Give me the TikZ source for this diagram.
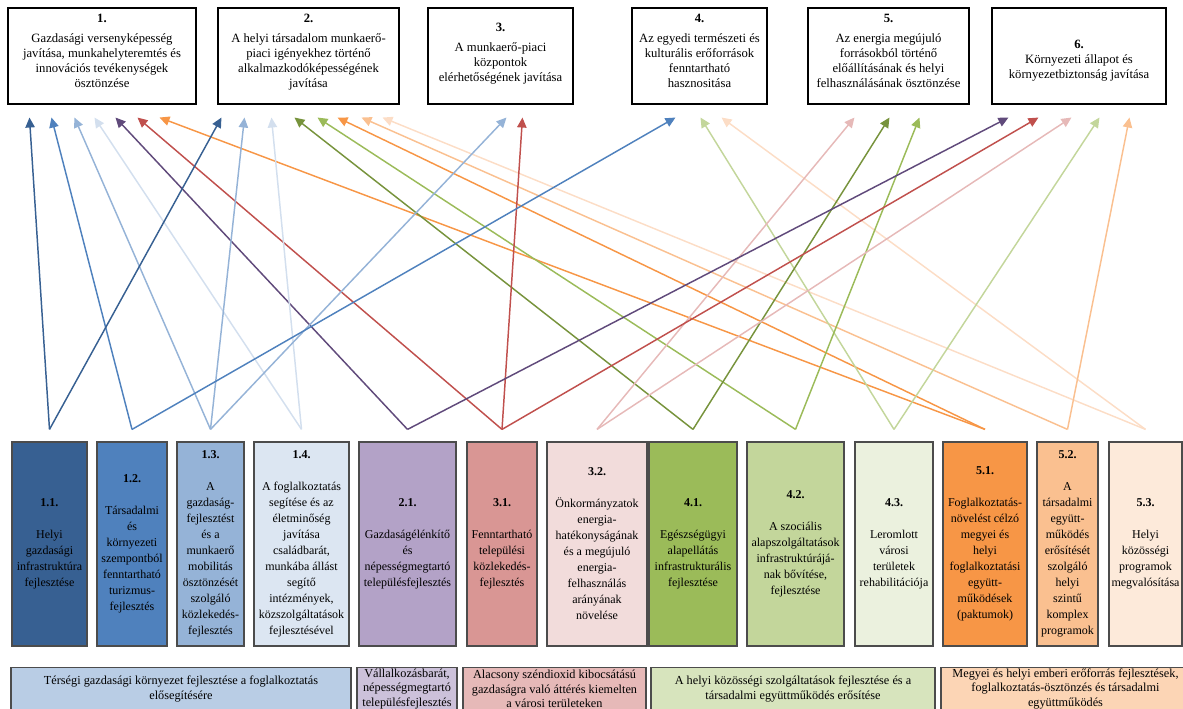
\documentclass[tikz,border=0pt]{standalone}
\usepackage{fontspec}
\setmainfont{Liberation Serif}
\usepackage{xcolor}
\definecolor{back11}{HTML}{376092}
\definecolor{back12}{HTML}{4F81BD}
\definecolor{back13}{HTML}{95B3D7}
\definecolor{back14}{HTML}{DCE6F2}
\definecolor{back21}{HTML}{B3A2C7}
\definecolor{back31}{HTML}{D99694}
\definecolor{back32}{HTML}{F2DCDB}
\definecolor{back41}{HTML}{9BBB59}
\definecolor{back42}{HTML}{C3D69B}
\definecolor{back43}{HTML}{EBF1DE}
\definecolor{back51}{HTML}{F79646}
\definecolor{back52}{HTML}{FAC090}
\definecolor{back53}{HTML}{FDEADA}
\definecolor{arr11}{HTML}{376092}
\definecolor{arr12}{HTML}{4F81BD}
\definecolor{arr13}{HTML}{95B3D7}
\definecolor{arr14}{HTML}{D3DFEE}
\definecolor{arr21}{HTML}{604A7B}
\definecolor{arr31}{HTML}{C0504D}
\definecolor{arr32}{HTML}{E6B9B8}
\definecolor{arr41}{HTML}{77933C}
\definecolor{arr42}{HTML}{9BBB59}
\definecolor{arr43}{HTML}{C3D69B}
\definecolor{arr51}{HTML}{F79646}
\definecolor{arr52}{HTML}{FAC090}
\definecolor{arr53}{HTML}{FCDDC6}
\definecolor{prioBlue}  {HTML}{B9CDE5}
\definecolor{prioPurple}{HTML}{CCC1DA}
\definecolor{prioRed}   {HTML}{E6B9B8}
\definecolor{prioGreen} {HTML}{D7E4BD}
\definecolor{prioOrange}{HTML}{FCD5B5}
\usetikzlibrary{arrows.meta, positioning, calc}

\begin{document}
\begin{tikzpicture}[
    x=0.75pt, y=-0.75pt,
    every node/.style={font=\fontsize{9}{11}\selectfont},
    goalbox/.style={draw, line width=0.8pt, minimum height=72pt, align=center,
                    inner sep=1pt, font=\fontsize{9.5}{11.25}\selectfont},
    measbox/.style={draw=black!70, line width=0.9pt, minimum height=153pt,
                    align=center, inner sep=1pt, font=\fontsize{9}{12}\selectfont},
    priobox/.style={draw=black!70, line width=0.9pt, minimum height=32pt,
                    align=center, inner xsep=1pt, inner ysep=0pt,
                    font=\fontsize{9.2}{11}\selectfont},
    arr/.style={-{Triangle[length=7.5pt, width=7pt]}, line width=1.1pt}
]
\clip (0,0) rectangle (1183,709);
% Goals
\foreach \n/\x/\w/\dn/\gap/\up/\txt in {
    1/102/141/0/4/8/{Gazdasági versenyképesség\\javítása, munkahelyteremtés és\\innovációs tevékenységek\\ösztönzése},
    2/308.5/135.75/0/4/8/{A helyi társadalom munkaerő-\\piaci igényekhez történő\\alkalmazkodóképességének\\javítása},
    3/500.5/108.75/0/4/6/{A munkaerő-piaci\\központok\\elérhetőségének javítása},
    4/699.5/101.25/0/4/8/{Az egyedi természeti és\\kulturális erőforrások\\fenntartható\\hasznositása},
    5/888.5/120.75/0/4/8/{Az energia megújuló\\forrásokból történő\\előállításának és helyi\\felhasználásának ösztönzése},
    6/1079/130.5/13/0/0/{Környezeti állapot és\\környezetbiztonság javítása}} {
    \node[goalbox, minimum width=\w pt] (t\n) at (\x,56)
        {\rule{0pt}{\dn pt}\textbf{\n.}\\[\gap pt]\txt\rule[-\up pt]{0pt}{\up pt}};
}
% Measures
\foreach \n/\num/\x/\w/\txt in {
    11/1.1./49.5/56.25/{Helyi\\gazdasági\\infrastruktúra\\fejlesztése},
    12/1.2./132/52.5/{Társadalmi\\és\\környezeti\\szempontból\\fenntartható\\turizmus-\\fejlesztés},
    13/1.3./210.5/50.25/{A\\gazdaság-\\fejlesztést\\és a\\munkaerő\\mobilitás\\ösztönzését\\szolgáló\\közlekedés-\\fejlesztés},
    14/1.4./301.5/71.25/{A foglalkoztatás\\segítése és az\\életminőség\\javítása\\családbarát,\\munkába állást\\segítő\\intézmények,\\közszolgáltatások\\fejlesztésével},
    21/2.1./407.5/72.75/{Gazdaságélénkítő\\és\\népességmegtartó\\településfejlesztés},
    31/3.1./502/52.5/{Fenntartható\\települési\\közlekedés-\\fejlesztés},
    32/3.2./597/75/{Önkormányzatok\\energia-\\hatékonyságának\\és a megújuló\\energia-\\felhasználás\\arányának\\növelése},
    41/4.1./693/66/{Egészségügyi\\alapellátás\\infrastrukturális\\fejlesztése},
    42/4.2./795.5/72.75/{A szociális\\alapszolgáltatások\\infrastruktúrájá-\\nak bővítése,\\fejlesztése},
    43/4.3./894/58.5/{Leromlott\\városi\\területek\\rehabilitációja},
    51/5.1./985/63/{Foglalkoztatás-\\növelést célzó\\megyei és\\helyi\\foglalkoztatási\\együtt-\\működések\\(paktumok)},
    52/5.2./1067.5/45.75/{A\\társadalmi\\együtt-\\működés\\erősítését\\szolgáló\\helyi\\szintű\\komplex\\programok},
    53/5.3./1145.5/54.75/{Helyi\\közösségi\\programok\\megvalósítása}} {
    \node[measbox, fill=back\n, minimum width=\w pt] (s\n) at (\x,544)
        {\textbf{\num}\\[12pt]\txt};
}
% Priorities
\node[priobox, fill=prioBlue, minimum width=255pt] (b1) at (181,689)
    {Térségi gazdasági környezet fejlesztése a foglalkoztatás\\elősegítésére};
\node[priobox, fill=prioPurple, minimum width=75pt] (b2) at (407,689)
    {Vállalkozásbarát,\\népességmegtartó\\településfejlesztés};
\node[priobox, fill=prioRed, minimum width=137.25pt] (b3) at (554.5,689)
    {Alacsony széndioxid kibocsátású\\gazdaságra való áttérés kiemelten\\a városi területeken};
\node[priobox, fill=prioGreen, minimum width=213pt] (b4) at (793,689)
    {A helyi közösségi szolgáltatások fejlesztése és a\\társadalmi együttműködés erősítése};
\node[priobox, fill=prioOrange, minimum width=186.75pt] (b5) at (1065.5,689)
    {Megyei és helyi emberi erőforrás fejlesztések,\\foglalkoztatás-ösztönzés és társadalmi\\együttműködés};
% Arrows from measures to goals
\foreach \s in {11,12,13,14,21,31,32,41,42,43,51,52,53}
    \coordinate (p\s) at ([shift={(0,-12)}]s\s.north);
\foreach \s/\t/\d in {11/1/22, 12/1/44, 13/1/67, 14/1/87, 21/1/108, 31/1/130,
    51/1/152, 11/2/4, 13/2/27, 14/2/54, 41/2/77, 42/2/100, 51/2/120, 52/2/144,
    53/2/165, 13/3/79, 31/3/95, 12/4/44, 43/4/69, 53/4/90, 32/5/47, 41/5/82,
    42/5/112, 21/6/17, 31/6/47, 32/6/80, 43/6/108, 52/6/138} {
    \draw[arr, draw=arr\s] (p\s) -- ([shift={(\d,13)}]t\t.south west);
}
\end{tikzpicture}
\end{document}
